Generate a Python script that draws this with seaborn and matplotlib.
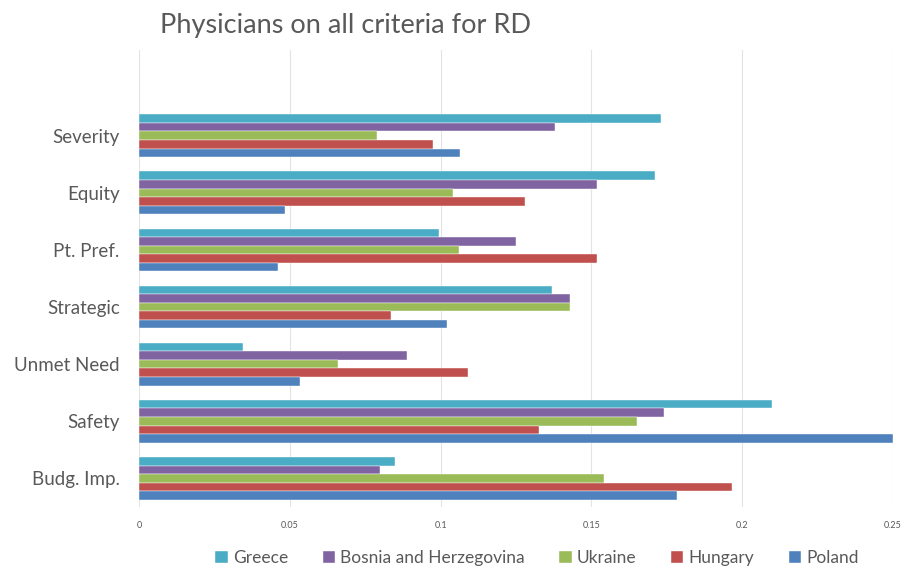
import matplotlib
matplotlib.use("Agg")
import matplotlib.pyplot as plt
import seaborn as sns
import pandas as pd

criteria = ["Severity", "Equity", "Pt. Pref.", "Strategic", "Unmet Need", "Safety", "Budg. Imp."]
countries = ["Greece", "Bosnia and Herzegovina", "Ukraine", "Hungary", "Poland"]

greece = [0.173, 0.171, 0.0995, 0.137, 0.0345, 0.210, 0.085]
bosnia = [0.138, 0.152, 0.125, 0.143, 0.089, 0.174, 0.080]
ukraine = [0.079, 0.104, 0.106, 0.143, 0.066, 0.165, 0.154]
hungary = [0.0975, 0.128, 0.152, 0.0835, 0.109, 0.1325, 0.1965]
poland = [0.1065, 0.0485, 0.046, 0.102, 0.0535, 0.250, 0.1785]

xticks = [0, 0.05, 0.1, 0.15, 0.2, 0.25]
xtick_labels = ["0", "0.05", "0.1", "0.15", "0.2", "0.25"]

colors = ["#4BACC6", "#8064A2", "#9BBB59", "#C0504D", "#4F81BD"]

rows = []
for country, vals in zip(countries, [greece, bosnia, ukraine, hungary, poland]):
    for crit, v in zip(criteria, vals):
        rows.append({"criterion": crit, "country": country, "weight": v})
df = pd.DataFrame(rows)

sns.set_theme(style="white")
plt.rcParams["font.family"] = ["Lato", "DejaVu Sans"]

fig = plt.figure(figsize=(9.07, 5.71), dpi=100)
ax = fig.add_axes([0.1533, 0.1121, 0.8313, 0.8003])

sns.barplot(data=df, y="criterion", x="weight", hue="country",
            order=criteria, hue_order=countries, palette=colors,
            orient="h", width=0.75, ax=ax, saturation=1,
            edgecolor="white", linewidth=0.3)

ax.set_xlim(0, 0.25)
ax.set_ylim(len(criteria) - 0.5, -1.5)
ax.set_xticks(xticks)
ax.set_xticklabels(xtick_labels, fontsize=6.5, color="#595959")
ax.tick_params(axis="y", labelsize=13.5, labelcolor="#595959", length=0, pad=14)
ax.tick_params(axis="x", length=0, pad=10)
ax.set_xlabel("")
ax.set_ylabel("")
ax.grid(axis="x", color="#E3E3E3", linewidth=0.8)
ax.set_axisbelow(True)
for s in ax.spines.values():
    s.set_visible(False)

fig.text(0.176, 0.943, "Physicians on all criteria for RD", fontsize=19.5,
         color="#595959", ha="left", va="baseline")

handles, labels = ax.get_legend_handles_labels()
ax.legend(handles, labels, loc="center", bbox_to_anchor=(0.528, -0.112),
          ncol=5, frameon=False, fontsize=12.5, labelcolor="#595959",
          handlelength=0.7, handleheight=0.7, handletextpad=0.3,
          columnspacing=2.0)

fig.savefig("out.png", dpi=100)
